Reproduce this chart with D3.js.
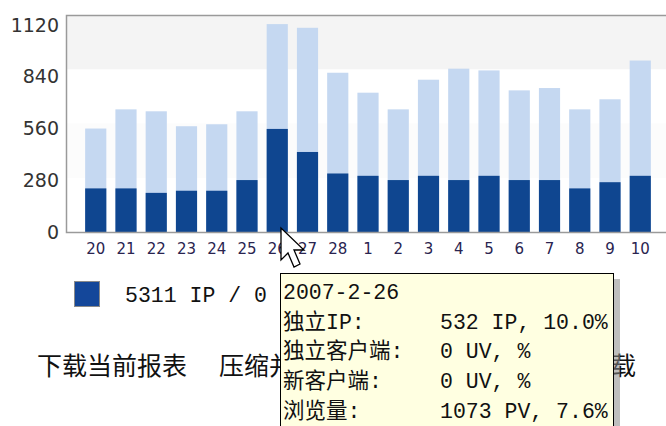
<!DOCTYPE html>
<html>
<head>
<meta charset="utf-8">
<script src="https://cdn.jsdelivr.net/npm/d3@7"></script>
<style>
  body { margin: 0; background: #fff; }
  svg { display: block; }
</style>
</head>
<body>
<div id="chart"></div>
<script>
const days = ['20', '21', '22', '23', '24', '25', '26', '27', '28', '1', '2', '3', '4', '5', '6', '7', '8', '9', '10']
const pv = [534, 633, 623, 546, 556, 623, 1073, 1054, 822, 719, 633, 786, 843, 834, 731, 743, 633, 685, 885]
const ip = [225, 225, 202, 213, 213, 268, 532, 413, 302, 290, 268, 290, 268, 290, 268, 268, 225, 257, 290]
const yTicks = [0, 280, 560, 840, 1120]
const tipLabels = ['独立IP:', '独立客户端:', '新客户端:', '浏览量:']
const tipValues = ['532 IP, 10.0%', '0 UV, %', '0 UV, %', '1073 PV, 7.6%']

const width = 666
const height = 426
const mono = "'Liberation Mono', 'Noto Sans CJK SC', monospace"
const cjk = "'Noto Sans CJK SC', sans-serif"

const svg = d3.select('#chart').append('svg').attr('width', width).attr('height', height)

const x = d3.scaleBand().domain(days).range([67, 669]).paddingInner(0.3).paddingOuter(0.6)
const y = d3.scaleLinear().domain([0, 1120]).range([232, 15])
// labels sit a little off the real grid in the original
const yLabel = d3.scaleLinear().domain([0, 1120]).range([232, 25])

// background bands
svg.append('rect')
  .attr('x', 67).attr('width', width - 67)
  .attr('y', y(1120)).attr('height', y(840) - y(1120))
  .attr('fill', '#f4f4f4')
svg.append('rect')
  .attr('x', 67).attr('width', width - 67)
  .attr('y', y(560)).attr('height', y(280) - y(560))
  .attr('fill', '#fcfcfc')

const bars = svg.append('g')
bars.selectAll('rect.pv')
  .data(pv)
  .enter()
  .append('rect')
  .attr('class', 'pv')
  .attr('x', (d, i) => x(days[i]))
  .attr('width', x.bandwidth())
  .attr('y', (d) => y(d))
  .attr('height', (d) => y(0) - y(d))
  .attr('fill', '#c5d8f1')
bars.selectAll('rect.ip')
  .data(ip)
  .enter()
  .append('rect')
  .attr('class', 'ip')
  .attr('x', (d, i) => x(days[i]))
  .attr('width', x.bandwidth())
  .attr('y', (d) => y(d))
  .attr('height', (d) => y(0) - y(d))
  .attr('fill', '#0f4690')

// frame
svg.append('path')
  .attr('d', `M${width},15.5H66.5V232.5H${width}`)
  .attr('fill', 'none')
  .attr('stroke', '#9a9a9a')
  .attr('stroke-width', 1.5)

const yAxis = svg.append('g')
  .attr('transform', 'translate(59,0)')
  .call(d3.axisLeft(yLabel).tickValues(yTicks).tickFormat(d3.format('d')).tickSize(0).tickPadding(0))
yAxis.select('.domain').remove()
yAxis.selectAll('text')
  .attr('font-family', "'DejaVu Sans', sans-serif")
  .attr('font-size', 19)
  .attr('fill', '#333')

const xAxis = svg.append('g')
  .attr('transform', 'translate(0,243)')
  .call(d3.axisBottom(x).tickSize(0).tickPadding(0))
xAxis.select('.domain').remove()
xAxis.selectAll('text')
  .attr('font-family', "'DejaVu Sans', sans-serif")
  .attr('font-size', 15)
  .attr('fill', '#2a2450')

// legend
svg.append('rect')
  .attr('x', 74.5).attr('y', 281.5).attr('width', 25).attr('height', 25)
  .attr('fill', '#14479a').attr('stroke', '#8a8a8a')
svg.append('text')
  .attr('x', 125).attr('y', 294).attr('dy', '0.35em')
  .attr('font-family', mono).attr('font-size', 21.5).attr('fill', '#111')
  .text('5311 IP / 0')

// links (partly hidden under the tooltip)
svg.append('text')
  .attr('x', 37).attr('y', 366).attr('dy', '0.35em')
  .attr('font-family', cjk).attr('font-size', 25).attr('fill', '#111')
  .text('下载当前报表')
svg.append('text')
  .attr('x', 219).attr('y', 366).attr('dy', '0.35em')
  .attr('font-family', cjk).attr('font-size', 25).attr('fill', '#111')
  .text('压缩并')
svg.append('text')
  .attr('x', 636).attr('y', 366).attr('dy', '0.35em').attr('text-anchor', 'end')
  .attr('font-family', cjk).attr('font-size', 25).attr('fill', '#111')
  .text('载')

// tooltip
const tip = svg.append('g')
tip.append('rect')
  .attr('x', 286).attr('y', 279).attr('width', 334).attr('height', 160)
  .attr('fill', '#888').attr('opacity', 0.55)
tip.append('rect')
  .attr('x', 280.5).attr('y', 273.5).attr('width', 333).attr('height', 160)
  .attr('fill', '#ffffe1').attr('stroke', '#000')
tip.append('text')
  .attr('x', 283).attr('y', 291).attr('dy', '0.35em')
  .attr('font-family', mono).attr('font-size', 21.5).attr('fill', '#111')
  .text('2007-2-26')
tip.selectAll('text.lab')
  .data(tipLabels)
  .enter()
  .append('text')
  .attr('class', 'lab')
  .attr('x', 283)
  .attr('y', (d, i) => 321 + i * 29.7)
  .attr('dy', '0.35em')
  .attr('font-family', mono).attr('font-size', 21.5).attr('fill', '#111')
  .text((d) => d)
tip.selectAll('text.val')
  .data(tipValues)
  .enter()
  .append('text')
  .attr('class', 'val')
  .attr('x', 440)
  .attr('y', (d, i) => 321 + i * 29.7)
  .attr('dy', '0.35em')
  .attr('font-family', mono).attr('font-size', 21.5).attr('fill', '#111')
  .text((d) => d)

// mouse pointer
const cur = d3.path()
cur.moveTo(281, 228)
cur.lineTo(281, 260)
cur.lineTo(288, 253)
cur.lineTo(294, 267)
cur.lineTo(300, 264)
cur.lineTo(294, 250)
cur.lineTo(304, 250)
cur.closePath()
svg.append('path').attr('d', cur).attr('fill', '#fff').attr('stroke', '#000').attr('stroke-width', 1.3)
</script>
</body>
</html>
